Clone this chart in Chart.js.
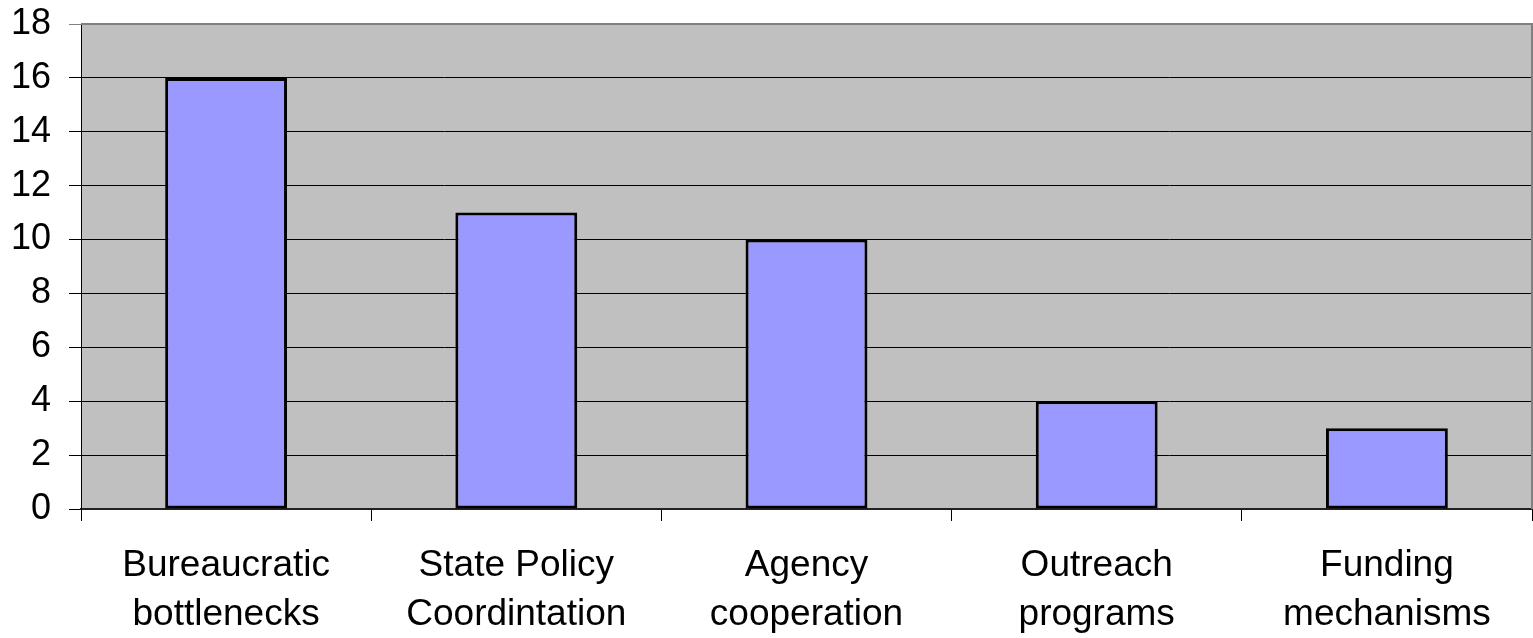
<!DOCTYPE html>
<html>
<head>
<meta charset="utf-8">
<script src="https://cdn.jsdelivr.net/npm/chart.js@4/dist/chart.umd.min.js"></script>
<style>
  html, body { margin: 0; padding: 0; background: #fff; }
  canvas { display: block; }
</style>
</head>
<body>
<canvas id="barChart" width="1533" height="638"></canvas>
<script>
// categories (two lines each) and counts
var categories = [
  ['Bureaucratic', 'bottlenecks'],
  ['State Policy', 'Coordintation'],
  ['Agency', 'cooperation'],
  ['Outreach', 'programs'],
  ['Funding', 'mechanisms']
];
var counts = [16, 11, 10, 4, 3];
var yTicks = [0, 2, 4, 6, 8, 10, 12, 14, 16, 18];

var FAMILY = "'Liberation Sans', Arial, sans-serif";

// gray plot background with the darker frame on top and right
var plotFrame = {
  id: 'plotFrame',
  beforeDraw: function(chart) {
    var a = chart.chartArea, ctx = chart.ctx;
    ctx.save();
    ctx.fillStyle = '#c0c0c0';
    ctx.fillRect(a.left, a.top, a.right - a.left, a.bottom - a.top);
    ctx.restore();
  },
  afterDraw: function(chart) {
    var a = chart.chartArea, ctx = chart.ctx;
    ctx.save();
    ctx.strokeStyle = '#808080';
    ctx.lineWidth = 2;
    ctx.beginPath();
    ctx.moveTo(a.left, a.top);
    ctx.lineTo(a.right, a.top);
    ctx.lineTo(a.right, a.bottom);
    ctx.stroke();
    ctx.restore();
  }
};

var ctx = document.getElementById('barChart').getContext('2d');
var chart = new Chart(ctx, {
  type: 'bar',
  data: {
    labels: categories,
    datasets: [{
      data: counts,
      backgroundColor: '#9999ff',
      borderColor: '#000000',
      borderWidth: 3,
      borderSkipped: false,
      barPercentage: 0.42,
      categoryPercentage: 1
    }]
  },
  options: {
    responsive: false,
    animation: false,
    layout: { padding: { top: 24, right: 1, left: 0, bottom: 0 } },
    plugins: { legend: { display: false }, tooltip: { enabled: false } },
    scales: {
      x: {
        grid: { offset: true, drawOnChartArea: false, drawTicks: true, tickLength: 12, color: '#000' },
        border: { display: true, color: '#222', width: 2 },
        ticks: {
          color: '#000',
          font: { family: FAMILY, size: 37, lineHeight: 1.33 },
          padding: 20,
          maxRotation: 0,
          autoSkip: false
        },
        afterFit: function(scale) { scale.height = 129; }
      },
      y: {
        min: 0,
        max: 18,
        afterBuildTicks: function(scale) {
          scale.ticks = yTicks.map(function(v) { return { value: v }; });
        },
        grid: {
          drawTicks: true,
          tickLength: 12,
          color: function(c) { return c.tick && c.tick.value === 18 ? '#808080' : '#000'; },
          lineWidth: 1
        },
        border: { display: true, color: '#000', width: 1 },
        // small lineHeight keeps the top label from pushing the plot down
        ticks: { color: '#000', font: { family: FAMILY, size: 36, lineHeight: 0.3 }, padding: 18 },
        afterFit: function(scale) { scale.width = 81; }
      }
    }
  },
  plugins: [plotFrame]
});
</script>
</body>
</html>
